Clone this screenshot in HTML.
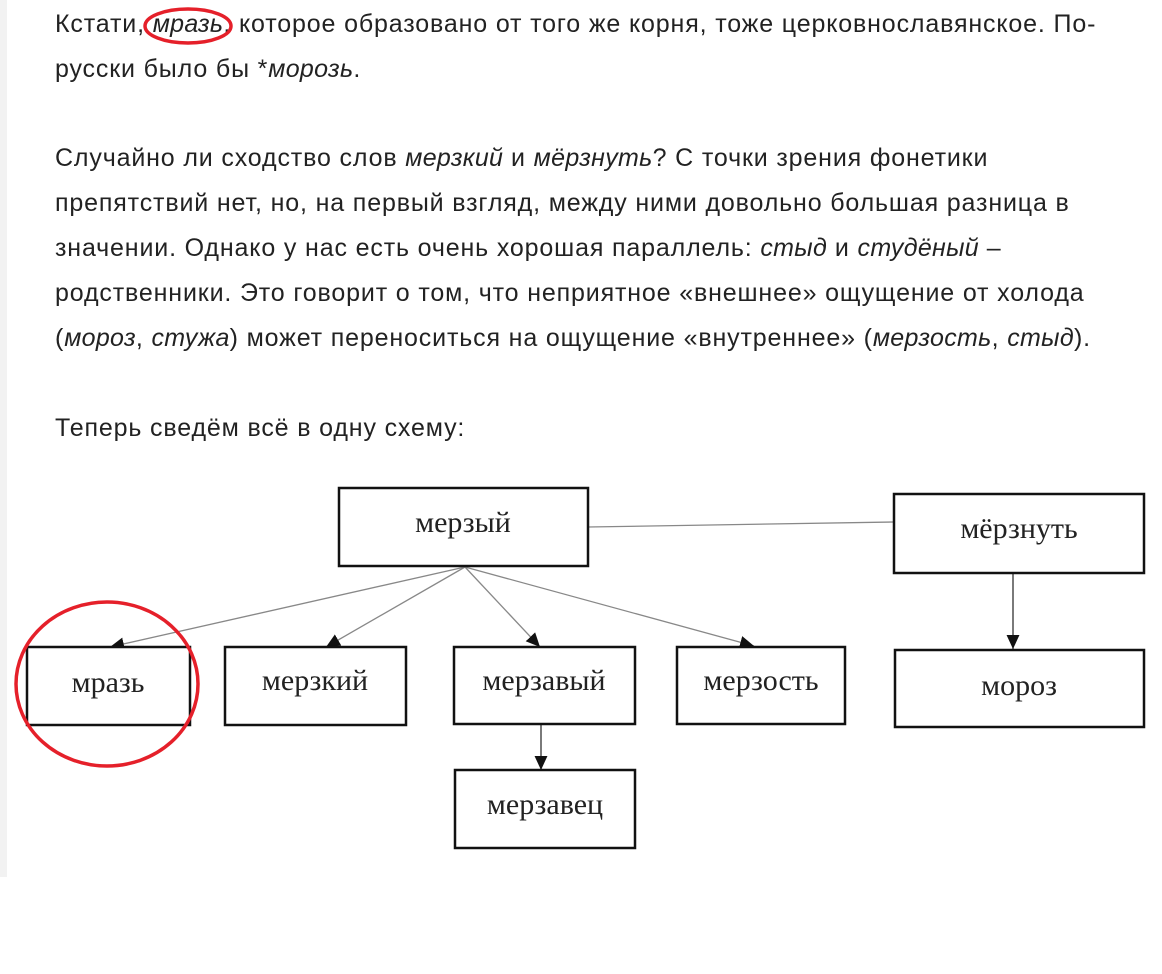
<!DOCTYPE html>
<html><head><meta charset="utf-8"><style>
body{margin:0;width:1162px;height:974px;background:#fff;position:relative;overflow:hidden;font-family:"Liberation Sans","Noto Sans CJK SC",sans-serif;color:#222}
.bar{position:absolute;left:0;top:0;width:7px;height:877px;background:#f2f2f2}
.t{position:absolute;left:55px;font-size:25px;letter-spacing:0.85px;line-height:45px;white-space:nowrap}
i{font-style:italic;letter-spacing:0.3px}
</style></head><body>
<div class="bar"></div>
<div class="t" style="top:2px">Кстати, <i>мразь</i>, которое образовано от того же корня, тоже церковнославянское. По-<br>русски было бы *<i>морозь</i>.</div>
<div class="t" style="top:136px">Случайно ли сходство слов <i>мерзкий</i> и <i>мёрзнуть</i>? С точки зрения фонетики<br>препятствий нет, но, на первый взгляд, между ними довольно большая разница в<br>значении. Однако у нас есть очень хорошая параллель: <i>стыд</i> и <i>студёный</i> –<br>родственники. Это говорит о том, что неприятное «внешнее» ощущение от холода<br>(<i>мороз</i>, <i>стужа</i>) может переноситься на ощущение «внутреннее» (<i>мерзость</i>, <i>стыд</i>).</div>
<div class="t" style="top:406px">Теперь сведём всё в одну схему:</div>
<svg width="1162" height="974" style="position:absolute;left:0;top:0" font-family="Liberation Serif, serif" font-size="30" fill="#222">
<defs><marker id="a" markerWidth="14" markerHeight="14" refX="13" refY="6" orient="auto" markerUnits="userSpaceOnUse" viewBox="0 0 13 12"><path d="M0,0L13,6L0,12z" fill="#111"/></marker></defs>
<g stroke="#888" stroke-width="1.3" fill="none">
<line x1="465" y1="567" x2="110" y2="647" marker-end="url(#a)"/>
<line x1="465" y1="567" x2="326" y2="647" marker-end="url(#a)"/>
<line x1="465" y1="567" x2="540" y2="647" marker-end="url(#a)"/>
<line x1="465" y1="567" x2="754" y2="646" marker-end="url(#a)"/>
<line x1="588" y1="527" x2="894" y2="522"/>
<line x1="1013" y1="573" x2="1013" y2="649" stroke="#333" marker-end="url(#a)"/>
<line x1="541" y1="724" x2="541" y2="770" stroke="#333" marker-end="url(#a)"/>
</g>
<g stroke="#111" stroke-width="2.5" fill="#fff">
<rect x="339" y="488" width="249" height="78"/>
<rect x="894" y="494" width="250" height="79"/>
<rect x="27" y="647" width="163" height="78"/>
<rect x="225" y="647" width="181" height="78"/>
<rect x="454" y="647" width="181" height="77"/>
<rect x="677" y="647" width="168" height="77"/>
<rect x="895" y="650" width="249" height="77"/>
<rect x="455" y="770" width="180" height="78"/>
</g>
<g text-anchor="middle" stroke="none">
<text x="463" y="532">мерзый</text>
<text x="1019" y="538">мёрзнуть</text>
<text x="108" y="692">мразь</text>
<text x="315" y="690">мерзкий</text>
<text x="544" y="690">мерзавый</text>
<text x="761" y="690">мерзость</text>
<text x="1019" y="695">мороз</text>
<text x="545" y="814">мерзавец</text>
</g>
<g stroke="#e5202a" stroke-width="3.5" fill="none">
<ellipse cx="107" cy="684" rx="91" ry="82"/>
<ellipse cx="188" cy="26" rx="43" ry="17"/>
</g>
</svg>
</body></html>
